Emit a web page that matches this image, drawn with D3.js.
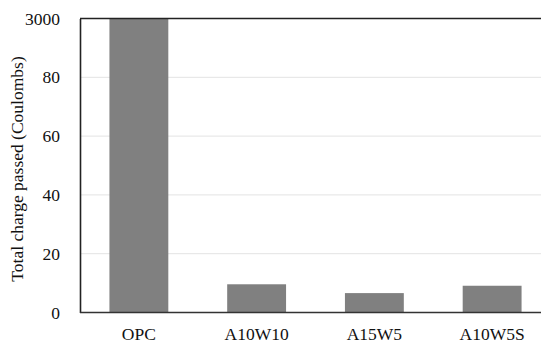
<!DOCTYPE html>
<html><head><meta charset="utf-8">
<script src="https://cdn.jsdelivr.net/npm/d3@7"></script>
<style>body{margin:0;background:#fff}svg{display:block}</style>
</head><body>
<svg id="c" width="541" height="343"></svg>
<script>
const categories = ["OPC", "A10W10", "A15W5", "A10W5S"];
// displayed values on broken axis (OPC reaches the top "3000" break)
const values = [100, 9.6, 6.6, 9.1];
const tickValues = [0, 20, 40, 60, 80, 100];
const tickLabels = ["0", "20", "40", "60", "80", "3000"];

const svg = d3.select("#c");
const W = 541, H = 343;
const plotLeft = 80, plotTop = 18.5, plotBottom = 312.5;
const x = d3.scaleBand().domain(categories).range([plotLeft, 551]).paddingInner(0.5).paddingOuter(0.25);
const y = d3.scaleLinear().domain([0, 100]).range([plotBottom, plotTop]);
const font = "'Liberation Serif','Times New Roman',serif";
const fs = 17.5;

// gridlines
svg.append("g").selectAll("line").data(tickValues.slice(1, 5)).join("line")
  .attr("x1", plotLeft).attr("x2", W).attr("y1", d => y(d)).attr("y2", d => y(d))
  .attr("stroke", "#e3e3e3").attr("stroke-width", 1);

// bars
svg.append("g").selectAll("rect").data(values).join("rect")
  .attr("x", (d, i) => x(categories[i])).attr("width", x.bandwidth())
  .attr("y", d => y(d)).attr("height", d => y(0) - y(d))
  .attr("fill", "#808080");

// top line
svg.append("line").attr("x1", plotLeft).attr("x2", W).attr("y1", y(100)).attr("y2", y(100))
  .attr("stroke", "#222").attr("stroke-width", 1.6);

// y axis
const ya = svg.append("g").attr("transform", `translate(${plotLeft},0)`)
  .call(d3.axisLeft(y).tickValues(tickValues).tickFormat((d, i) => tickLabels[i]).tickSize(0).tickPadding(20));
ya.select(".domain").attr("stroke", "#222").attr("stroke-width", 1.6);
ya.selectAll("text").attr("font-family", font).attr("font-size", fs).attr("fill", "#111");

// x axis
const xa = svg.append("g").attr("transform", `translate(0,${plotBottom})`)
  .call(d3.axisBottom(x).tickSize(0).tickPadding(15));
xa.select(".domain").remove();
xa.append("line").attr("x1", plotLeft).attr("x2", W).attr("stroke", "#333").attr("stroke-width", 1.6);
xa.selectAll("text").attr("font-family", font).attr("font-size", fs).attr("fill", "#111");

// y label
svg.append("text").attr("transform", `translate(22.5,169) rotate(-90)`)
  .attr("text-anchor", "middle").attr("font-family", font).attr("font-size", fs).attr("fill", "#111")
  .text("Total charge passed (Coulombs)");
</script>
</body></html>
